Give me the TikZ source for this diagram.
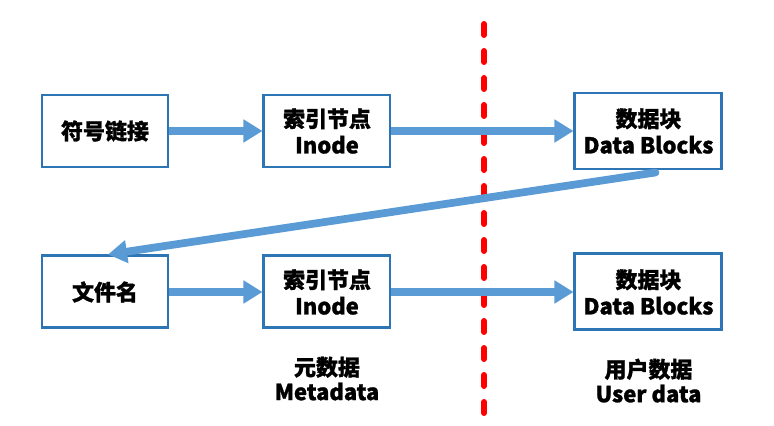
\documentclass[tikz,border=0pt]{standalone}
\usepackage{fontspec}
\setmainfont{Noto Sans CJK SC}[BoldFeatures={FakeBold=1.2}]
\usetikzlibrary{arrows.meta, positioning}
\definecolor{boxblue}{RGB}{46,117,182}
\definecolor{arrowblue}{RGB}{91,155,213}

\begin{document}
\begin{tikzpicture}[
    box/.style={draw=boxblue, line width=1.7pt, fill=white, align=center, font=\bfseries\fontsize{12.5}{15}\selectfont, minimum width=2.52cm, minimum height=1.44cm},
    databox/.style={box, minimum width=2.94cm, minimum height=1.52cm},
    flow/.style={arrowblue, line width=4.4pt, -{Triangle[length=0.38cm, width=0.44cm]}},
    caption/.style={align=center, font=\bfseries\fontsize{12.5}{14}\selectfont}]
  \useasboundingbox (0,0) rectangle (15.48,-8.52);
  \node (link) [box] at (2.10,-2.62) {符号链接};
  \node (inode1) [box, right=1.86cm of link] {索引节点\\Inode};
  \node (data1) [databox, right=3.64cm of inode1] {数据块\\Data Blocks};
  \node (fname) [box, below=1.72cm of link] {文件名};
  \node (inode2) [box, right=1.86cm of fname] {索引节点\\Inode};
  \node (data2) [databox, right=3.64cm of inode2] {数据块\\Data Blocks};
  \node (meta) [caption, below=0.42cm of inode2] {元数据\\Metadata};
  \node (user) [caption, below=0.42cm of data2] {用户数据\\User data};
  \draw[red, line width=3.4pt, line cap=round, dash pattern=on 0.22cm off 0.32cm] (9.68,-0.48) -- (9.68,-8.36);
  \draw[flow] (link) -- (inode1);
  \draw[flow] (inode1) -- (data1);
  \draw[flow, line cap=round] ([xshift=0.14cm, yshift=-0.04cm]data1.south) -- ([xshift=0.06cm]fname.north);
  \draw[flow] (fname) -- (inode2);
  \draw[flow] (inode2) -- (data2);
\end{tikzpicture}
\end{document}
